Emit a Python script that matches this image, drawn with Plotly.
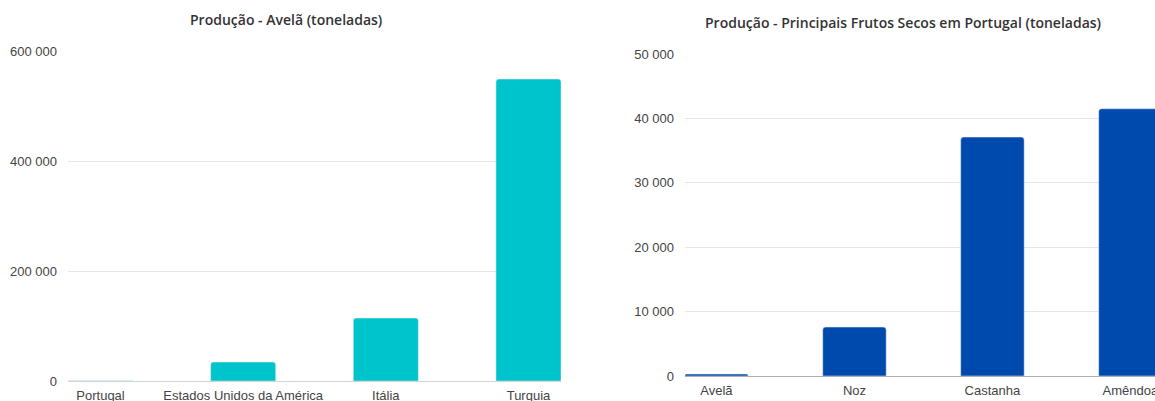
import plotly.graph_objects as go

# Data
paises = ["Portugal", "Estados Unidos da América", "Itália", "Turquia"]
avela_prod = [300, 34500, 114500, 549000]

frutos = ["Avelã", "Noz", "Castanha", "Amêndoa"]
frutos_prod = [300, 7600, 37100, 41500]

left_ticks = [0, 200000, 400000, 600000]
right_ticks = [0, 10000, 20000, 30000, 40000, 50000]

W, H = 1155, 401

fig = go.Figure()
fig.add_trace(go.Bar(x=paises, y=avela_prod, marker=dict(color="#00C4CC", cornerradius=3),
                     width=0.456, xaxis="x", yaxis="y", hoverinfo="x+y"))
fig.add_trace(go.Bar(x=frutos, y=frutos_prod, marker=dict(color="#004AAD", cornerradius=3),
                     width=0.46, xaxis="x2", yaxis="y2", hoverinfo="x+y"))

tickfont = dict(family="Liberation Sans, Arial, sans-serif", size=13, color="#444444")
common_y = dict(showgrid=True, gridcolor="#e6e6e6", gridwidth=1, zeroline=True,
                zerolinewidth=1, tickfont=tickfont, automargin=False,
                tickformat=",d", ticks="", showline=False, ticklabelstandoff=10)
common_x = dict(type="category", showgrid=False, zeroline=False, tickfont=tickfont,
                ticks="", showline=False, ticklabelstandoff=5, automargin=False)

title_font = dict(family="Open Sans, sans-serif", size=14, color="#333333", weight=600)

fig.update_layout(
    width=W, height=H, margin=dict(l=0, r=0, t=0, b=0),
    paper_bgcolor="white", plot_bgcolor="white", showlegend=False,
    separators=", ",
    xaxis=dict(domain=[68 / W, 561 / W], range=[-0.228, 3.228], anchor="y", **common_x),
    yaxis=dict(domain=[(H - 381) / H, (H - 51) / H], range=[0, 600000], tickvals=left_ticks,
               anchor="x", zerolinecolor="#d4d4d4", **common_y),
    xaxis2=dict(domain=[685 / W, 1.0], range=[-0.228, 3.178], anchor="y2", **common_x),
    yaxis2=dict(domain=[(H - 376) / H, (H - 54) / H], range=[0, 50000], tickvals=right_ticks,
                anchor="x2", zerolinecolor="#b0b0b0", **common_y),
    annotations=[
        dict(text="Produção - Avelã (toneladas)", x=286 / W, y=(H - 19) / H,
             xref="paper", yref="paper", showarrow=False, xanchor="center", yanchor="middle",
             font=title_font),
        dict(text="Produção - Principais Frutos Secos em Portugal (toneladas)", x=903 / W,
             y=(H - 22) / H, xref="paper", yref="paper", showarrow=False, xanchor="center",
             yanchor="middle", font=title_font),
    ],
)

fig.write_html("out.html")
